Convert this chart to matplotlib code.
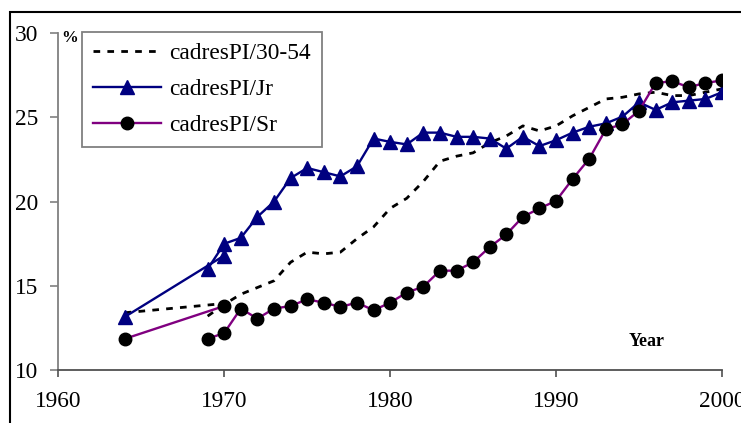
import matplotlib
matplotlib.use("Agg")
import matplotlib.pyplot as plt
from matplotlib.patches import Rectangle

plt.rcParams['font.family'] = ['Liberation Serif', 'DejaVu Serif']

# ---- data ----
# earlier series (two points each, 1964 and 1970)
old_years = [1964, 1970]
old_3054 = [13.4, 13.95]
old_jr = [13.15, 16.8]
old_sr = [11.85, 13.8]

# main series 1969-2000
years = list(range(1969, 2001))
cadres_3054 = [13.2, 13.9, 14.5, 14.9, 15.3, 16.4, 17.0, 16.9, 17.0, 17.8,
               18.5, 19.6, 20.2, 21.2, 22.4, 22.7, 22.9, 23.5, 23.9, 24.5,
               24.2, 24.5, 25.1, 25.6, 26.1, 26.2, 26.4, 26.5, 26.3, 26.3,
               26.5, 26.7]
cadres_jr = [16.0, 17.5, 17.85, 19.1, 20.0, 21.4, 22.0, 21.75, 21.5, 22.1,
             23.75, 23.55, 23.4, 24.1, 24.1, 23.85, 23.85, 23.75, 23.15, 23.85,
             23.3, 23.65, 24.1, 24.45, 24.65, 25.05, 25.9, 25.45, 25.9, 26.0,
             26.1, 26.5]
cadres_sr = [11.85, 12.2, 13.65, 13.05, 13.65, 13.8, 14.2, 14.0, 13.75, 14.0,
             13.55, 14.0, 14.6, 14.95, 15.9, 15.9, 16.4, 17.3, 18.05, 19.1,
             19.6, 20.05, 21.35, 22.55, 24.3, 24.6, 25.4, 27.05, 27.15, 26.8,
             27.05, 27.2]

xticks = [1960, 1970, 1980, 1990, 2000]
yticks = [10, 15, 20, 25, 30]
labels = ['cadresPI/30-54', 'cadresPI/Jr', 'cadresPI/Sr']

W, H = 741, 423
fig = plt.figure(figsize=(W / 100, H / 100), dpi=100)
ax = fig.add_axes([58.3 / W, (H - 370) / H, (722 - 58.3) / W, (370 - 33.3) / H])

fs = 16.8
navy = '#000080'
purple = '#800080'
dash_kw = dict(color='black', lw=2.0, linestyle=(0, (2.4, 2.6)))
jr_kw = dict(color=navy, lw=1.7, marker='^', ms=10, mfc=navy, mec=navy)
sr_kw = dict(color=purple, lw=1.7, marker='o', ms=9, mfc='black', mec='black')

ax.plot(old_years, old_3054, **dash_kw)
l1, = ax.plot(years, cadres_3054, label=labels[0], **dash_kw)
ax.plot(old_years, old_jr, **jr_kw)
l2, = ax.plot(years, cadres_jr, label=labels[1], **jr_kw)
ax.plot(old_years, old_sr, **sr_kw)
l3, = ax.plot(years, cadres_sr, label=labels[2], **sr_kw)

ax.set_xlim(1960, 2000)
ax.set_ylim(10, 30)
ax.set_xticks(xticks)
ax.set_yticks(yticks)
for s in ['top', 'right']:
    ax.spines[s].set_visible(False)
ax.spines['left'].set_color('#808080')
ax.spines['bottom'].set_color('#505050')
ax.spines['left'].set_linewidth(1.3)
ax.spines['bottom'].set_linewidth(1.3)
ax.tick_params(axis='y', direction='out', length=5.8, width=1.2, color='#808080',
               labelsize=fs, pad=8.5)
ax.tick_params(axis='x', direction='out', length=5.0, width=1.2, color='#505050',
               labelsize=fs, pad=10)
for lab in ax.get_xticklabels():
    lab.set_clip_on(False)

ax.text(70 / W, 1 - 38 / H, '%', transform=fig.transFigure, fontsize=12,
        fontweight='bold', ha='center', va='center')
ax.text(647 / W, 1 - 341 / H, 'Year', transform=fig.transFigure, fontsize=13,
        fontweight='bold', ha='center', va='center')

leg = ax.legend(handles=[l1, l2, l3], loc='upper left',
                bbox_to_anchor=(82 / W, 1 - 32 / H), bbox_transform=fig.transFigure,
                borderaxespad=0, fontsize=fs, frameon=True, fancybox=False,
                shadow=False, handlelength=2.95, handletextpad=0.35,
                borderpad=0.45, labelspacing=0.64, numpoints=1)
fr = leg.get_frame()
fr.set_edgecolor('#808080')
fr.set_linewidth(1.3)
fr.set_alpha(1)

fig.add_artist(Rectangle((10 / W, -0.2), 1.5, (H - 11.7) / H + 0.2,
                         transform=fig.transFigure, fill=False, lw=1.5,
                         ec='black'))

fig.savefig('out.png', dpi=100)
